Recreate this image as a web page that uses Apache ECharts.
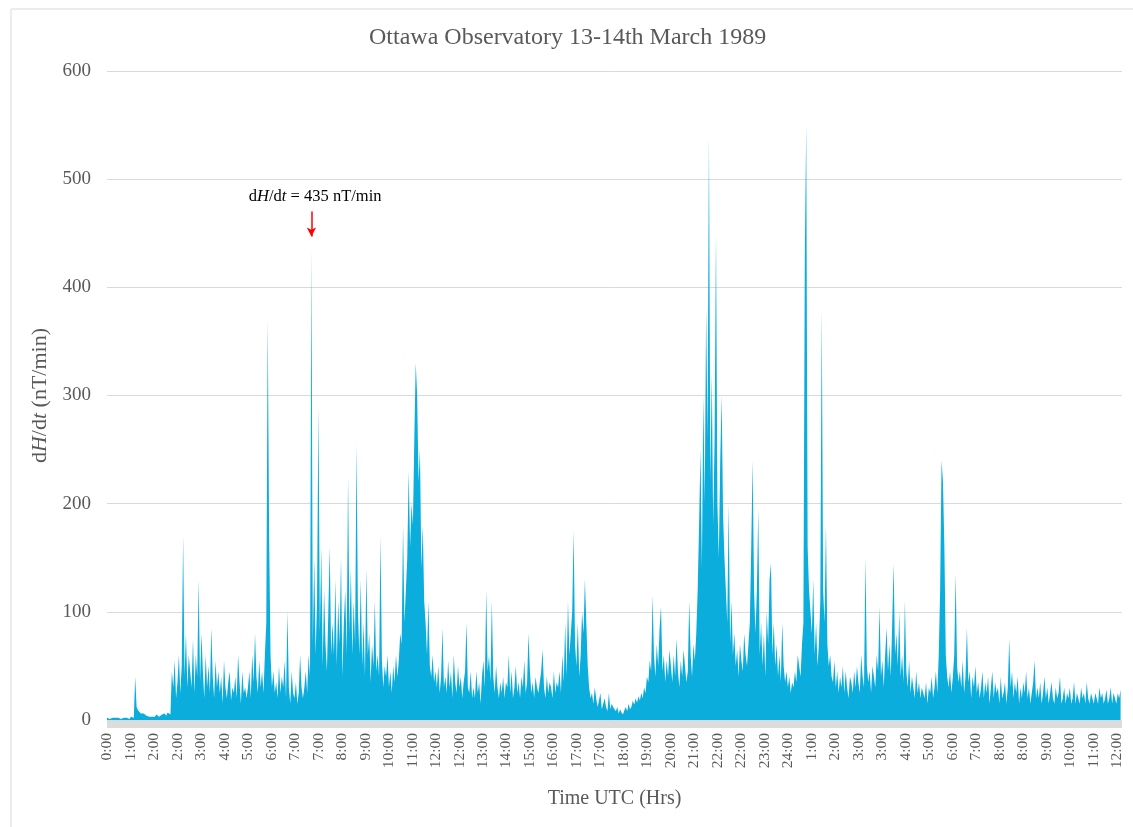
<!DOCTYPE html>
<html><head><meta charset="utf-8">
<script src="https://cdn.jsdelivr.net/npm/echarts/dist/echarts.min.js"></script>
<style>html,body{margin:0;padding:0;background:#fff}#c{width:1133px;height:827px}</style>
</head><body><div id="c"></div>
<script>
// x-axis tick labels, one every 50 minutes from 0:00 on 13 March
const tickLabels = ['0:00','1:00','2:00','2:00','3:00','4:00','5:00','6:00','7:00','7:00',
  '8:00','9:00','10:00','11:00','12:00','12:00','13:00','14:00','15:00','16:00',
  '17:00','17:00','18:00','19:00','20:00','21:00','22:00','22:00','23:00','24:00',
  '1:00','2:00','3:00','3:00','4:00','5:00','6:00','7:00','8:00','8:00',
  '9:00','10:00','11:00','12:00'];
const tickStepMinutes = 50;
const sampleStepMinutes = 3;

// dH/dt (nT/min), one value per 3 minutes, one line per hour, 13 March 00:00-24:00
const day13 = [
  2,2,1,2,2,1,2,3,2,2,1,2,2,1,2,2,1,3,2,2,
  40,12,9,8,6,5,6,5,4,5,3,4,3,4,3,5,4,3,4,5,
  5,6,4,7,6,5,45,30,55,20,35,60,25,50,170,40,80,30,60,45,
  30,75,25,60,40,130,35,80,45,20,60,30,50,25,85,40,20,55,30,45,
  25,40,15,55,30,20,35,45,18,30,25,40,20,60,35,15,45,25,30,20,
  30,45,20,60,35,80,40,25,55,30,45,25,60,90,370,170,60,30,45,25,
  35,20,50,25,40,30,55,20,100,30,15,45,25,20,35,15,25,60,30,20,
  30,45,25,60,40,435,70,150,60,110,290,80,160,50,120,70,45,100,160,60,
  90,60,130,50,110,70,150,40,90,120,60,225,80,140,60,110,70,255,100,60,
  130,50,90,40,140,60,80,35,70,50,110,45,60,40,170,55,30,50,40,60,
  30,45,25,50,35,60,40,55,80,70,180,90,120,150,230,160,200,180,260,330,
  300,220,250,140,180,110,90,60,110,50,40,60,35,45,30,50,25,40,85,30,
  40,25,55,30,45,20,60,35,25,50,30,40,20,35,45,90,30,25,45,20,
  30,20,45,25,35,15,40,55,30,120,45,60,35,110,40,25,50,30,20,35,
  25,40,20,35,30,60,25,45,20,30,50,25,35,20,40,30,55,25,35,80,
  45,25,35,20,40,30,25,35,45,65,30,20,40,25,35,30,20,45,25,35,
  30,45,25,60,35,90,40,110,60,80,100,175,70,50,90,40,60,100,80,130,
  90,50,30,20,25,15,30,20,12,18,25,10,15,20,12,8,25,10,15,12,
  10,8,12,6,10,7,5,9,12,8,15,10,12,18,14,20,16,22,18,25,
  20,30,25,40,35,55,45,115,60,40,70,50,85,105,45,60,35,55,40,65,
  50,35,60,40,75,45,30,55,40,65,50,35,45,110,60,40,70,55,80,120,
  180,250,140,300,200,380,260,540,220,320,180,260,450,200,150,240,300,190,150,120,
  90,200,70,110,60,80,50,65,40,70,55,45,80,60,50,70,90,160,240,120,
  80,120,195,60,90,50,80,40,100,70,130,145,60,90,50,70,40,60,35,90
];
// 14 March 00:00-12:00
const day14 = [
  50,35,45,30,40,25,35,30,45,35,60,50,40,70,90,430,550,160,120,100,
  80,130,60,90,50,70,110,380,120,90,180,70,50,60,40,35,55,30,45,25,
  40,30,50,25,45,30,20,40,35,25,45,30,50,35,25,60,40,30,150,50,
  35,45,25,50,40,30,60,45,105,40,55,30,60,85,45,70,40,90,145,60,
  80,50,100,40,60,35,110,45,30,55,25,40,30,20,45,25,35,20,30,25,
  20,35,15,30,25,40,20,30,45,25,60,120,240,220,160,60,40,30,45,25,
  40,60,135,50,35,45,30,55,25,40,85,35,45,20,40,30,50,25,35,20,
  30,45,20,35,25,40,15,30,45,20,35,25,30,15,40,20,25,35,15,30,
  75,30,45,20,35,25,40,15,30,20,35,25,45,20,30,15,25,35,55,20,
  30,20,35,15,25,40,20,30,15,25,35,20,15,30,20,25,40,15,20,30,
  15,25,20,30,15,20,35,15,25,20,15,30,20,25,15,35,20,15,25,20,
  15,25,20,15,30,20,25,15,20,28,15,20,30,15,25,20,15,25,20,28
];
const yTicks = [0,100,200,300,400,500,600];
const peakMinute = 435, peakValue = 435;

const values = day13.concat(day14);
const seriesData = values.map((v, i) => [i * sampleStepMinutes, v]);
const FONT = '"Liberation Serif", "Times New Roman", serif';

const chart = echarts.init(document.getElementById('c'), null, {renderer: 'canvas'});
chart.setOption({
  animation: false,
  backgroundColor: '#ffffff',
  title: {
    text: 'Ottawa Observatory 13-14th March 1989',
    left: 369, top: 26, padding: 0,
    textStyle: {fontFamily: FONT, fontSize: 24, fontWeight: 'normal', color: '#595959'}
  },
  graphic: [{
    type: 'rect', left: 8.5, top: 6.5, silent: true,
    shape: {width: 1200, height: 900},
    style: {fill: 'none', stroke: '#d9d9d9', lineWidth: 1}
  }],
  grid: {left: 107, right: 11, top: 71, bottom: 107, containLabel: false, outerBoundsMode: 'none'},
  xAxis: {
    type: 'value', min: 0, max: tickLabels.length * tickStepMinutes - tickStepMinutes + 10,
    interval: tickStepMinutes,
    offset: 4,
    axisLine: {show: true, onZero: false, lineStyle: {color: '#dcdcdc', width: 7, cap: 'butt'}},
    axisTick: {show: false},
    splitLine: {show: false},
    axisLabel: {
      rotate: 90, margin: 9, fontFamily: FONT, fontSize: 15.5, color: '#595959',
      showMaxLabel: false,
      formatter: v => {
        const k = v / tickStepMinutes;
        return Number.isInteger(k) && tickLabels[k] !== undefined ? tickLabels[k] : '';
      }
    },
    name: 'Time UTC (Hrs)', nameLocation: 'middle', nameGap: 65,
    nameTextStyle: {fontFamily: FONT, fontSize: 20, color: '#595959'}
  },
  yAxis: {
    type: 'value', min: yTicks[0], max: yTicks[yTicks.length - 1], interval: 100,
    axisLine: {show: false}, axisTick: {show: false},
    splitLine: {lineStyle: {color: '#d9d9d9', width: 1}},
    axisLabel: {margin: 16, fontFamily: FONT, fontSize: 19, color: '#595959'},
    name: '{n|d}{i|H}{n|/d}{i|t}{n| (nT/min)}',
    nameLocation: 'middle', nameGap: 54,
    nameTextStyle: {
      fontFamily: FONT, fontSize: 22, color: '#595959',
      rich: {
        n: {fontFamily: FONT, fontSize: 22, color: '#595959'},
        i: {fontFamily: FONT, fontSize: 22, color: '#595959', fontStyle: 'italic'}
      }
    }
  },
  series: [{
    type: 'line',
    data: seriesData,
    showSymbol: false,
    sampling: false,
    lineStyle: {width: 0, color: '#0aaddc'},
    areaStyle: {color: '#0aaddc', opacity: 1},
    itemStyle: {color: '#0aaddc'},
    markLine: {
      silent: true,
      symbol: ['none', 'arrow'],
      symbolSize: [7, 9],
      lineStyle: {color: '#ff0000', width: 1.5, type: 'solid'},
      label: {show: false},
      data: [[{coord: [peakMinute, 470]}, {coord: [peakMinute, 447]}]]
    },
    markPoint: {
      silent: true,
      symbol: 'circle', symbolSize: 1,
      itemStyle: {color: 'rgba(0,0,0,0)'},
      label: {
        show: true, position: 'inside',
        formatter: '{n|d}{i|H}{n|/d}{i|t}{n| = ' + peakValue + ' nT/min}',
        rich: {
          n: {fontFamily: FONT, fontSize: 16.5, color: '#000000'},
          i: {fontFamily: FONT, fontSize: 16.5, color: '#000000', fontStyle: 'italic'}
        }
      },
      data: [{coord: [443, 484]}]
    }
  }]
});
</script>
</body></html>
